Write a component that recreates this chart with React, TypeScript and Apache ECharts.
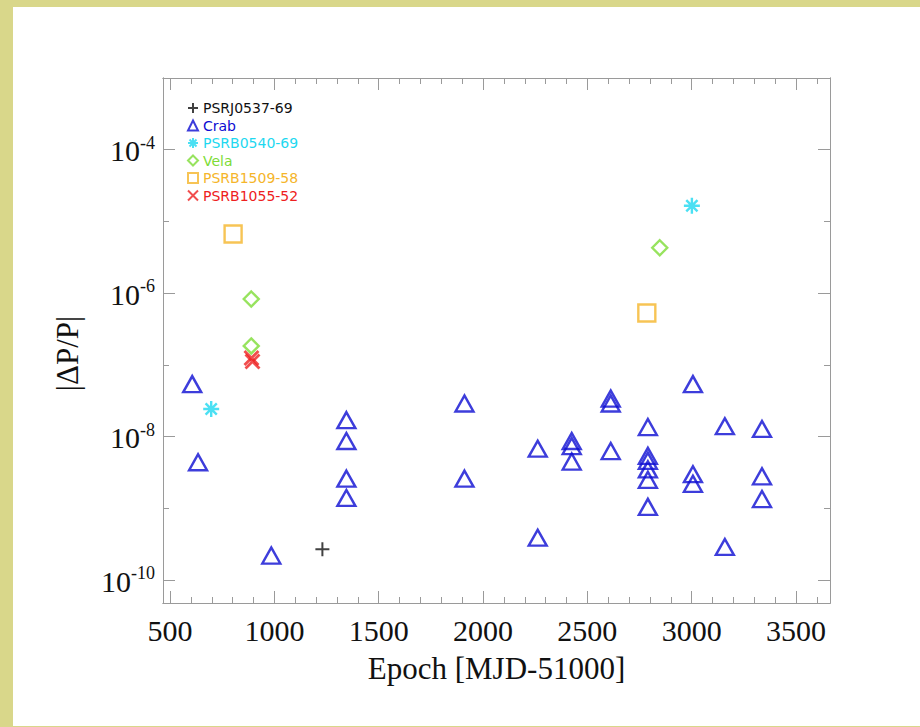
import React, { useEffect, useRef } from "react";
import * as echarts from "echarts";

// ---- axis ranges and ticks ----
const xMin = 466;
const xMax = 3663;
const yMin = 4.8e-11;
const yMax = 1e-3;
const xMajorTicks = [500, 1000, 1500, 2000, 2500, 3000, 3500];
const xMinorTicks = [
  500, 600, 700, 800, 900, 1000, 1100, 1200, 1300, 1400, 1500, 1600, 1700, 1800, 1900, 2000,
  2100, 2200, 2300, 2400, 2500, 2600, 2700, 2800, 2900, 3000, 3100, 3200, 3300, 3400, 3500, 3600,
];
const yMajorTicks = [1e-10, 1e-8, 1e-6, 1e-4];
const yMinorTicks = [1e-9, 1e-7, 1e-5];

// ---- series names ----
const seriesNames = ["PSRJ0537-69", "Crab", "PSRB0540-69", "Vela", "PSRB1509-58", "PSRB1055-52"];

// ---- data: epoch (MJD-51000) and |dP/P| ----
const j0537X = [1230];
const j0537Y = [2.7e-10];

const crabX = [
  606, 634, 985, 1345, 1345, 1345, 1345, 1911, 1911, 2262, 2262, 2425, 2425, 2425, 2612, 2612,
  2612, 2790, 2790, 2790, 2790, 2790, 2790, 3006, 3006, 3006, 3159, 3159, 3337, 3337, 3337,
];
const crabY = [
  5.4e-8, 4.4e-9, 2.2e-10, 1.7e-8, 8.7e-9, 2.6e-9, 1.4e-9, 2.9e-8, 2.6e-9, 6.8e-9, 3.9e-10,
  8.7e-9, 7.4e-9, 4.5e-9, 3.4e-8, 2.9e-8, 6.3e-9, 1.36e-8, 5.4e-9, 4.6e-9, 3.5e-9, 2.5e-9,
  1.05e-9, 5.4e-8, 3.0e-9, 2.2e-9, 1.4e-8, 2.9e-10, 1.28e-8, 2.8e-9, 1.35e-9,
];

const b0540X = [697, 3001];
const b0540Y = [2.43e-8, 1.66e-5];

const velaX = [889, 889, 2847];
const velaY = [8.3e-7, 1.84e-7, 4.3e-6];

const b1509X = [802, 2785];
const b1509Y = [6.7e-6, 5.3e-7];

const b1055X = [890, 895];
const b1055Y = [1.25e-7, 1.12e-7];

const colors = {
  black: "#111111",
  blue: "#0c0cd2",
  cyan: "#1ed8f0",
  green: "#7ddc36",
  orange: "#f5b52a",
  red: "#ee2020",
};

const zip = (xs: number[], ys: number[]) => xs.map((x, i) => [x, ys[i]]);

const serif = "'Liberation Serif', 'Times New Roman', serif";
const gray = "#9a9a9a";

function xAxisCfg(position: string, ticks: number[], len: number, labels: boolean) {
  return {
    type: "value",
    position,
    min: xMin,
    max: xMax,
    axisLine: { show: true, onZero: false, lineStyle: { color: gray, width: 1 } },
    axisTick: { show: true, inside: true, length: len, customValues: ticks, lineStyle: { color: gray, width: 1 } },
    axisLabel: labels
      ? {
          show: true,
          customValues: xMajorTicks,
          margin: 12,
          color: "#111",
          fontFamily: serif,
          fontSize: 30,
          formatter: (v: number) => String(v),
        }
      : { show: false },
    splitLine: { show: false },
  };
}

function yAxisCfg(position: string, ticks: number[], len: number, labels: boolean) {
  return {
    type: "log",
    logBase: 10,
    position,
    min: yMin,
    max: yMax,
    axisLine: { show: true, onZero: false, lineStyle: { color: gray, width: 1 } },
    axisTick: { show: true, inside: true, length: len, customValues: ticks, lineStyle: { color: gray, width: 1 } },
    axisLabel: labels
      ? {
          show: true,
          customValues: yMajorTicks,
          margin: 8,
          formatter: (v: number) => {
            const e = Math.round(Math.log10(v));
            return `{b|10}{s|${e < 0 ? "-" : ""}${Math.abs(e)}}`;
          },
          rich: {
            b: { fontFamily: serif, fontSize: 30, color: "#111", lineHeight: 32, verticalAlign: "bottom" },
            s: { fontFamily: serif, fontSize: 18, color: "#111", lineHeight: 32, verticalAlign: "top", padding: [0, 0, 12, 0] },
          },
        }
      : { show: false },
    splitLine: { show: false },
  };
}

export default function App() {
  const ref = useRef<HTMLDivElement>(null);

  useEffect(() => {
    if (!ref.current) return;
    const chart = echarts.init(ref.current, null, { renderer: "svg" });

    const plusPath = "path://M0,5L10,5M5,0L5,10";
    const starPath = "path://M5,0L5,10M0,5L10,5M1.5,1.5L8.5,8.5M8.5,1.5L1.5,8.5";
    const crossPath = "path://M0,0L10,10M10,0L0,10";
    const none = "rgba(0,0,0,0)";

    const xBottom = xAxisCfg("bottom", xMajorTicks, 12, true) as any;
    xBottom.name = "Epoch [MJD-51000]";
    xBottom.nameLocation = "middle";
    xBottom.nameGap = 50;
    xBottom.nameTextStyle = { fontFamily: serif, fontSize: 31, color: "#111" };

    const yLeft = yAxisCfg("left", yMajorTicks, 12, true) as any;
    yLeft.name = "|ΔP/P|";
    yLeft.nameLocation = "middle";
    yLeft.nameGap = 80;
    yLeft.nameTextStyle = { fontFamily: serif, fontSize: 31, color: "#111", padding: [0, 26, 0, 0] };

    const option: any = {
      animation: false,
      backgroundColor: "#d9d78a",
      graphic: [
        {
          type: "rect",
          z: -10,
          silent: true,
          shape: { x: 13, y: 7, width: 907, height: 719 },
          style: { fill: "#ffffff" },
        },
      ],
      grid: { left: 163, right: 90, top: 78, bottom: 124, containLabel: false },
      legend: {
        orient: "vertical",
        left: 182,
        top: 96,
        itemWidth: 10,
        itemHeight: 10,
        itemGap: 3.5,
        selectedMode: false,
        textStyle: { fontFamily: "'DejaVu Sans', sans-serif", fontSize: 14, lineHeight: 14 },
        data: [
          { name: seriesNames[0], textStyle: { color: colors.black } },
          { name: seriesNames[1], textStyle: { color: colors.blue } },
          { name: seriesNames[2], textStyle: { color: colors.cyan } },
          { name: seriesNames[3], textStyle: { color: colors.green } },
          { name: seriesNames[4], textStyle: { color: colors.orange } },
          { name: seriesNames[5], textStyle: { color: colors.red } },
        ],
      },
      xAxis: [
        xBottom,
        xAxisCfg("bottom", xMinorTicks, 6, false),
        xAxisCfg("top", xMajorTicks, 12, false),
        xAxisCfg("top", xMinorTicks, 6, false),
      ],
      yAxis: [
        yLeft,
        yAxisCfg("left", yMinorTicks, 6, false),
        yAxisCfg("right", yMajorTicks, 12, false),
        yAxisCfg("right", yMinorTicks, 6, false),
      ],
      series: [
        {
          name: seriesNames[0],
          type: "scatter",
          data: zip(j0537X, j0537Y),
          symbol: plusPath,
          symbolSize: 14,
          itemStyle: { color: none, borderColor: colors.black, borderWidth: 2 },
        },
        {
          name: seriesNames[1],
          type: "scatter",
          data: zip(crabX, crabY),
          symbol: "triangle",
          symbolSize: [18, 16],
          itemStyle: { color: none, borderColor: colors.blue, borderWidth: 2.4 },
        },
        {
          name: seriesNames[2],
          type: "scatter",
          data: zip(b0540X, b0540Y),
          symbol: starPath,
          symbolSize: 16,
          itemStyle: { color: none, borderColor: colors.cyan, borderWidth: 2.4 },
        },
        {
          name: seriesNames[3],
          type: "scatter",
          data: zip(velaX, velaY),
          symbol: "diamond",
          symbolSize: 15,
          itemStyle: { color: none, borderColor: colors.green, borderWidth: 2.4 },
        },
        {
          name: seriesNames[4],
          type: "scatter",
          data: zip(b1509X, b1509Y),
          symbol: "rect",
          symbolSize: 17,
          itemStyle: { color: none, borderColor: colors.orange, borderWidth: 2.4 },
        },
        {
          name: seriesNames[5],
          type: "scatter",
          data: zip(b1055X, b1055Y),
          symbol: crossPath,
          symbolSize: 14,
          itemStyle: { color: none, borderColor: colors.red, borderWidth: 2.8 },
        },
      ],
    };

    chart.setOption(option);
    return () => chart.dispose();
  }, []);

  return (
    <div
      ref={ref}
      style={{ position: "absolute", left: 0, top: 0, width: 920, height: 727 }}
    />
  );
}
